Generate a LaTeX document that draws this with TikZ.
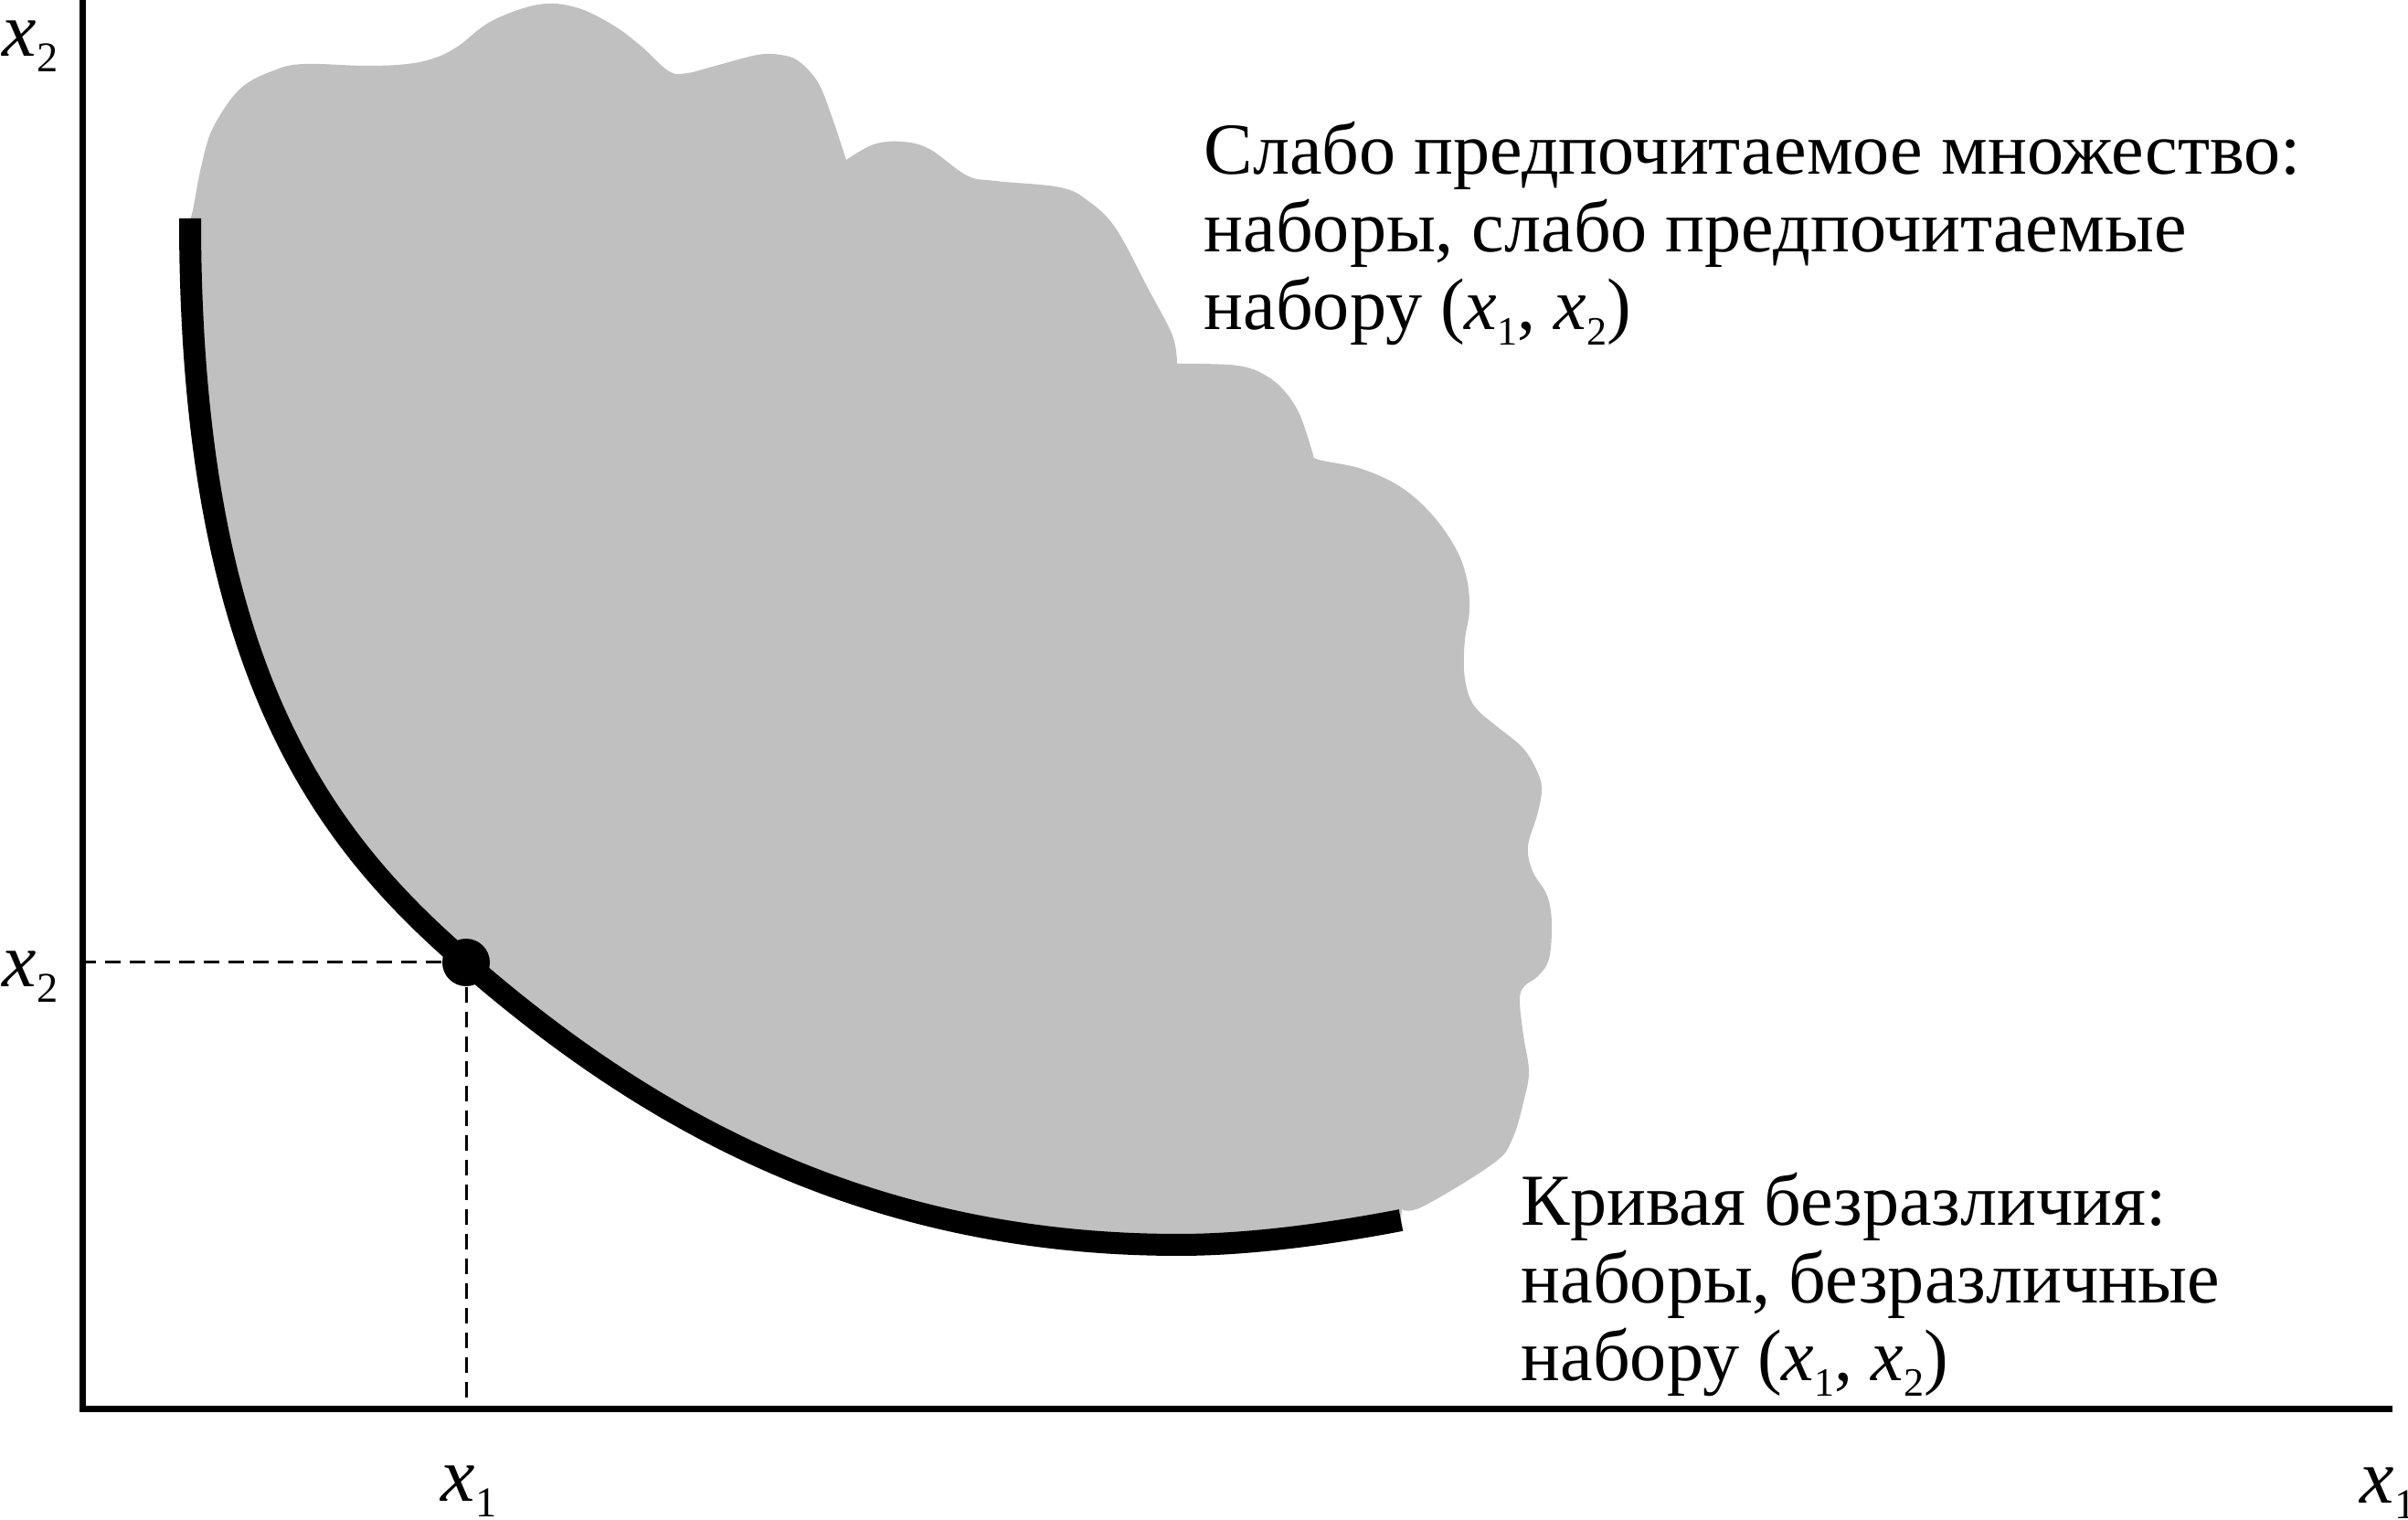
\documentclass[tikz,border=0pt]{standalone}
\usepackage{fontspec}
\usepackage{graphicx}
\setmainfont{Liberation Serif}
\definecolor{setgray}{RGB}{192,192,192}
\newcommand{\xsub}[1]{\textit{x}\raisebox{-0.2em}{\scalebox{0.55}{#1}}}
\tikzset{
	axis line/.style={line width=0.07cm},
	curve line/.style={line width=0.24cm},
	guide/.style={line width=0.03cm, dash pattern=on 0.17cm off 0.1cm},
	set fill/.style={fill=setgray},
	dot node/.style={circle, fill, inner sep=0, minimum size=0.52cm},
	axis label/.style={inner sep=0, font=\fontsize{24}{26}\selectfont},
	note/.style={inner sep=0, align=left, font=\fontsize{22.8}{24.2}\selectfont},
}

\begin{document}
\begin{tikzpicture}

\useasboundingbox (-0.90,-1.21) rectangle (25.45,15.42);

% points of the indifference curve
\coordinate (ctop) at (1.18,13.03);
\coordinate (cmid) at (4.20,4.89);
\coordinate (clow) at (12.0,1.80);
\coordinate (cend) at (14.43,2.07);

% weakly preferred set
\fill[set fill]
  plot[smooth, tension=0.6] coordinates {(1.18,13.03) (1.21,13.12) (1.30,13.59) (1.43,14.02) (1.73,14.45) (2.10,14.65)
    (2.43,14.72) (3.10,14.70) (3.56,14.72) (3.87,14.79) (4.12,14.92) (4.48,15.19) (4.99,15.37) (5.40,15.34)
    (5.80,15.15) (6.11,14.92) (6.42,14.64) (6.62,14.62) (6.93,14.70) (7.39,14.82) (7.64,14.82) (7.84,14.75)
    (8.05,14.52) (8.20,14.15) (8.36,13.67)}
  -- plot[smooth, tension=0.6] coordinates {(8.36,13.67) (8.66,13.84) (8.97,13.87) (9.27,13.79) (9.68,13.50)
    (9.99,13.44) (10.70,13.37) (11.01,13.22) (11.31,12.92) (11.67,12.25) (11.93,11.75) (11.98,11.44)}
  -- plot[smooth, tension=0.6] coordinates {(11.98,11.44) (12.23,11.44) (12.64,11.42) (12.90,11.34) (13.13,11.17)
    (13.32,10.89) (13.47,10.44)}
  -- plot[smooth, tension=0.6] coordinates {(13.47,10.44) (13.53,10.39) (14.00,10.29) (14.43,10.09) (14.77,9.79)
    (15.03,9.42) (15.15,9.09) (15.18,8.75) (15.13,8.42) (15.12,8.09) (15.17,7.82) (15.27,7.65) (15.47,7.48)
    (15.77,7.23) (15.93,6.96) (15.97,6.77) (15.92,6.50) (15.82,6.16) (15.87,5.89) (16.03,5.62) (16.08,5.32)
    (16.05,4.93) (15.93,4.74) (15.78,4.63) (15.73,4.48) (15.77,4.09) (15.83,3.71) (15.78,3.40) (15.65,2.96)
    (15.44,2.69) (14.67,2.22) (14.44,2.19)}
  -- (cend) .. controls (13.7,1.93) and (12.8,1.80) .. (clow)
  .. controls (8.5,1.80) and (6.085,3.25) .. (cmid)
  .. controls (2.69,6.20) and (1.18,8.03) .. (ctop) -- cycle;

% axes
\coordinate (O) at (0,0);
\coordinate (ytop) at (0,15.5);
\coordinate (xend) at (25.28,0);
\draw[axis line] (ytop) -- (O) -- (xend);

% indifference curve
\draw[curve line] (ctop) .. controls (1.18,8.03) and (2.69,6.20) .. (cmid)
  .. controls (6.085,3.25) and (8.5,1.80) .. (clow)
  .. controls (12.8,1.80) and (13.7,1.93) .. (cend);

\node (bundle) [dot node] at (cmid) {};
\draw[guide] (bundle) -- (bundle -| O);
\draw[guide] (bundle) -- (bundle |- O);

\node (ytoplabel) [axis label, anchor=base west] at (-0.88,14.80) {\xsub{2}};
\node (ylabel) [axis label, anchor=base west] at (-0.88,4.62) {\xsub{2}};
\node (xlabel) [axis label, anchor=base west] at (3.92,-1.01) {\xsub{1}};
\node (xendlabel) [axis label, anchor=base west] at (24.92,-1.03) {\xsub{1}};

\node (prefset) [note, anchor=base west] at (12.27,11.81)
  {Слабо предпочитаемое множество:\\наборы, слабо предпочитаемые\\набору (\xsub{1}, \xsub{2})};
\node (indiff) [note, anchor=base west] at (15.74,0.31)
  {Кривая безразличия:\\наборы, безразличные\\набору (\xsub{1}, \xsub{2})};

\end{tikzpicture}
\end{document}
